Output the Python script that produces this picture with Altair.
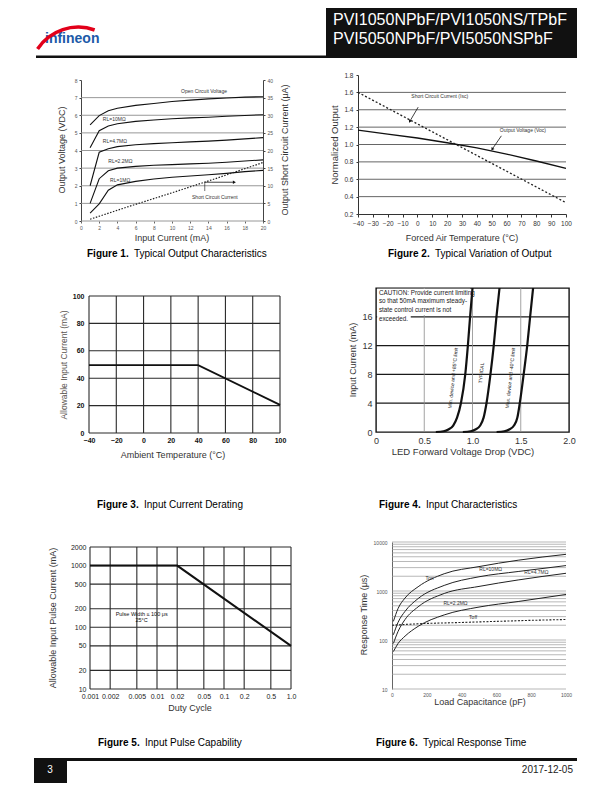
import math
import altair as alt
import pandas as pd

FONT = "Liberation Sans"

# ===================== DATA =====================
# Figure 1 - Typical Output Characteristics (x: input current mA, y: output volts)
F1_X = [1, 2, 3, 4, 6, 8, 10, 12, 14, 16, 18, 20]
F1_OPEN = [5.45, 5.98, 6.25, 6.40, 6.56, 6.67, 6.78, 6.86, 6.93, 6.98, 7.03, 7.05]
F1_R10 = [4.15, 5.12, 5.39, 5.52, 5.65, 5.73, 5.80, 5.85, 5.89, 5.94, 5.99, 6.03]
F1_R47 = [2.00, 3.90, 4.10, 4.22, 4.33, 4.39, 4.44, 4.49, 4.53, 4.59, 4.66, 4.73]
F1_R22 = [1.00, 2.40, 2.85, 3.00, 3.10, 3.16, 3.20, 3.24, 3.28, 3.33, 3.40, 3.47]
F1_R1 = [0.45, 0.97, 1.75, 2.05, 2.25, 2.38, 2.48, 2.55, 2.62, 2.70, 2.80, 2.87]
F1_ISC_X = [1, 5, 10, 15, 20]
F1_ISC = [0.5, 3.9, 8.0, 12.2, 16.6]          # short circuit current, uA
F1_XTICKS = [0, 2, 4, 6, 8, 10, 12, 14, 16, 18, 20]
F1_VTICKS = [0, 1, 2, 3, 4, 5, 6, 7, 8]
F1_ATICKS = [0, 5, 10, 15, 20, 25, 30, 35, 40]
F1_GRID = [0, 1, 2, 3, 4, 5, 6, 7]
F1_NOTES = ["Open Circuit Voltage", "RL=10MΩ", "RL=4.7MΩ", "RL=2.2MΩ", "RL=1MΩ", "Short Circuit Current"]
F1_NOTE_X = [11.0, 2.4, 2.4, 3.0, 3.2, 12.2]
F1_NOTE_Y = [7.4, 5.8, 4.55, 3.4, 2.35, 1.38]

# Figure 2 - Typical Variation of Output
F2_T = [-40, -20, 0, 20, 40, 60, 80, 100]
F2_VOC = [1.165, 1.12, 1.075, 1.02, 0.96, 0.89, 0.81, 0.725]
F2_ISC_T = [-40, 25, 100]
F2_ISC = [1.60, 1.01, 0.33]
F2_XTICKS = [-40, -30, -20, -10, 0, 10, 20, 30, 40, 50, 60, 70, 80, 90, 100]
F2_YTICKS = [0.2, 0.4, 0.6, 0.8, 1.0, 1.2, 1.4, 1.6, 1.8]
F2_GRID = [0.4, 0.6, 0.8, 1.0, 1.2, 1.4, 1.6]
F2_NOTES = ["Short Circuit Current (Isc)", "Output Voltage (Voc)"]
F2_NOTE_X = [15, 71]
F2_NOTE_Y = [1.556, 1.165]

# Figure 3 - Input Current Derating
F3_T = [-40, 40, 100]
F3_I = [49.5, 49.5, 20.5]
F3_XTICKS = [-40, -20, 0, 20, 40, 60, 80, 100]
F3_YTICKS = [0, 20, 40, 60, 80, 100]

# Figure 4 - Input Characteristics
F4_I = [0, 0.1, 0.35, 0.9, 2.0, 4.0, 8.0, 12.0, 16.0, 20.0]
F4_MIN_V = [0.62, 0.70, 0.75, 0.80, 0.84, 0.88, 0.925, 0.952, 0.975, 1.00]
F4_TYP_V = [0.90, 0.98, 1.03, 1.08, 1.115, 1.145, 1.186, 1.22, 1.248, 1.28]
F4_MAX_V = [1.25, 1.33, 1.38, 1.43, 1.465, 1.49, 1.53, 1.567, 1.597, 1.628]
F4_XTICKS = [0, 0.5, 1.0, 1.5, 2.0]
F4_YTICKS = [0, 4, 8, 12, 16]
F4_HGRID = [4, 8, 12, 16]
F4_VGRID = [0.5, 1.0, 1.5]
F4_CAUTION = ["CAUTION: Provide current limiting", "so that 50mA maximum steady-",
              "state control current is not", "exceeded."]
F4_CAUTION_Y = [19.35, 18.2, 16.95, 15.75]
F4_CURVE_NOTES = ["Min. device and +85°C limit", "TYPICAL", "Max. device and -40°C limit"]
F4_CURVE_NOTE_X = [0.795, 1.088, 1.389]
F4_CURVE_NOTE_Y = [7.5, 8.2, 7.5]

# Figure 5 - Input Pulse Capability
F5_D = [0.001, 0.02, 1.0]
F5_I = [1000, 1000, 50]
F5_XTICKS = [0.001, 0.002, 0.005, 0.01, 0.02, 0.05, 0.1, 0.2, 0.5, 1.0]
F5_YTICKS = [10, 20, 50, 100, 200, 500, 1000, 2000]
F5_NOTES = ["Pulse Width ≤ 100 μs", "25°C"]
F5_NOTE_X = [0.0059, 0.0059]
F5_NOTE_Y = [166, 130]

# Figure 6 - Typical Response Time
F6_C = [8, 35, 75, 150, 300, 500, 725, 1000]
F6_TON = [240, 440, 720, 1220, 2250, 3150, 4250, 5600]
F6_R10 = [128, 230, 385, 700, 1300, 1950, 2500, 3300]
F6_R47 = [85, 150, 262, 475, 890, 1240, 1680, 2300]
F6_R22 = [58, 85, 120, 190, 325, 470, 610, 850]
F6_TOFF_C = [0, 100, 200, 400, 600, 800, 1000]
F6_TOFF = [200, 210, 218, 228, 240, 252, 262]
F6_XTICKS = [0, 200, 400, 600, 800, 1000]
F6_YTICKS = [10, 100, 1000, 10000]
F6_GRID = [m * d for d in (10, 100, 1000) for m in range(1, 10)] + [10000]
F6_NOTES = ["Ton", "RL=10MΩ", "RL=4.7MΩ", "RL=2.2MΩ", "Toff"]
F6_NOTE_X = [215, 567, 830, 365, 466]
F6_NOTE_Y = [1800, 2750, 2400, 560, 300]


# ===================== HELPERS =====================
def one():
    return pd.DataFrame({"k": [0]})


def series(xs, ys, name):
    return pd.DataFrame({"x": xs, "y": ys, "s": name})


def scale(domain, rng=None, log=False):
    kw = dict(domain=domain, nice=False, zero=False)
    if log:
        kw["type"] = "log"
    if rng is not None:
        kw["range"] = rng
    return alt.Scale(**kw)


def axis(values, size, color="#333", orient=None, fmt=None, expr=None, tick=0,
         pad=3, domain=False, dcolor="#333", weight="normal"):
    kw = dict(values=values, title=None, grid=False, labelFont=FONT, labelFontSize=size,
              labelColor=color, labelPadding=pad, labelFlush=False, labelOverlap=False,
              domain=domain, ticks=tick > 0, tickSize=tick, labelFontWeight=weight)
    if tick > 0:
        kw["tickColor"] = dcolor
    if domain:
        kw["domainColor"] = dcolor
    if orient:
        kw["orient"] = orient
    if fmt:
        kw["format"] = fmt
    if expr:
        kw["labelExpr"] = expr
    return alt.Axis(**kw)


def box(left, right, top, bottom):
    return alt.Chart(one()).mark_rect(opacity=0).encode(
        x=alt.value(-left), x2=alt.value(right), y=alt.value(-top), y2=alt.value(bottom))


def rect(x1, x2, y1, y2, color):
    return alt.Chart(one()).mark_rect(color=color).encode(
        x=alt.value(x1), x2=alt.value(x2), y=alt.value(y1), y2=alt.value(y2))


def label(text, x, y, size=9, angle=0, weight="normal", color="#222",
          align="center", baseline="middle"):
    return alt.Chart(one()).mark_text(
        text=text, font=FONT, fontSize=size, angle=angle, fontWeight=weight,
        color=color, align=align, baseline=baseline).encode(x=alt.value(x), y=alt.value(y))


def caption(num, text, x0, yb):
    return [label(f"Figure {num}.", x0, yb, 10, weight="bold", color="#000",
                  align="left", baseline="alphabetic"),
            label(text, x0 + 47, yb, 10, color="#000", align="left", baseline="alphabetic")]


class Frame:
    """Scales and axes shared by every layer of one figure."""
    def __init__(self, X, Y, ax, ay):
        self.X, self.Y, self.ax, self.ay = X, Y, ax, ay

    def xe(self, field):
        return alt.X(field, scale=self.X, axis=self.ax)

    def ye(self, field):
        return alt.Y(field, scale=self.Y, axis=self.ay)


def curves(fr, frames, width=1.1, color="#111", dash=None, interp=None):
    df = pd.concat(frames, ignore_index=True)
    mk = dict(color=color, strokeWidth=width)
    if dash:
        mk["strokeDash"] = dash
    if interp:
        mk["interpolate"] = interp
    return alt.Chart(df).mark_line(**mk).encode(x=fr.xe("x:Q"), y=fr.ye("y:Q"), detail="s:N")


def notes(fr, xs, ys, texts, size, color="#333", align="left", angle=0):
    df = pd.DataFrame({"x": xs, "y": ys, "t": texts})
    return alt.Chart(df).mark_text(font=FONT, fontSize=size, color=color, align=align,
                                   baseline="middle", angle=angle).encode(
        x=fr.xe("x:Q"), y=fr.ye("y:Q"), text="t:N")


def hgrid(fr, vals, color, width):
    return alt.Chart(pd.DataFrame({"v": vals})).mark_rule(color=color, strokeWidth=width).encode(
        y=fr.ye("v:Q"))


def vgrid(fr, vals, lo, hi, color, width):
    df = pd.DataFrame({"v": vals, "lo": [lo] * len(vals), "hi": [hi] * len(vals)})
    return alt.Chart(df).mark_rule(color=color, strokeWidth=width).encode(
        x=fr.xe("v:Q"), y=fr.ye("hi:Q"), y2="lo:Q")


def arrow(fr, x1, y1, x2, y2, sx, sy):
    dx = (x2 - x1) * sx
    dy = -(y2 - y1) * sy
    ang = math.degrees(math.atan2(dx, -dy)) % 360
    seg = alt.Chart(pd.DataFrame({"x": [x1], "y": [y1], "x2": [x2], "y2": [y2]})).mark_rule(
        color="#111", strokeWidth=0.8).encode(x=fr.xe("x:Q"), y=fr.ye("y:Q"), x2="x2:Q", y2="y2:Q")
    head = alt.Chart(pd.DataFrame({"x": [x2], "y": [y2]})).mark_point(
        shape="triangle", filled=True, size=12, color="#111", opacity=1, angle=ang).encode(
        x=fr.xe("x:Q"), y=fr.ye("y:Q"))
    return [seg, head]


def spacer(w):
    return alt.Chart(one()).mark_rect(opacity=0).encode(
        x=alt.value(0), x2=alt.value(w), y=alt.value(0), y2=alt.value(1)).properties(width=w, height=1)


# ===================== FIGURE 1 =====================
W1, H1 = 182, 146
fr1 = Frame(scale([0, 20]), scale([0, 8], [H1, 5]),
            axis(F1_XTICKS, 5, "#555", tick=2, pad=2, dcolor="#666", fmt="d"),
            axis(F1_VTICKS, 5, "#555", tick=2, pad=2, domain=True, dcolor="#444", fmt="d"))
fr1r = Frame(fr1.X, scale([0, 40], [H1, 5]), fr1.ax,
             axis(F1_ATICKS, 5, "#555", orient="right", tick=2, pad=2, domain=True,
                  dcolor="#444", fmt="d"))
f1_leader = alt.Chart(pd.DataFrame({"x": [13.6], "y": [2.2], "y2": [1.7]})).mark_rule(
    color="#111", strokeWidth=0.6).encode(x=fr1.xe("x:Q"), y=fr1.ye("y:Q"), y2="y2:Q")
f1_inner = alt.layer(
    box(61, 224, 13, 187),
    hgrid(fr1, F1_GRID, "#8c8c8c", 0.9),
    curves(fr1, [series(F1_X, F1_OPEN, "open"), series(F1_X, F1_R10, "r10"),
                 series(F1_X, F1_R47, "r47"), series(F1_X, F1_R22, "r22"),
                 series(F1_X, F1_R1, "r1")], width=1.1),
    notes(fr1, F1_NOTE_X, F1_NOTE_Y, F1_NOTES, 5),
    f1_leader,
    *arrow(fr1, 13.6, 2.2, 16.8, 2.2, W1 / 20, (H1 - 5) / 8),
    label("Output Voltage (VDC)", -19, 75, 9, angle=270, color="#333"),
    label("Output Short Circuit Current (μA)", 204, 75, 9, angle=270, color="#333"),
    label("Input Current (mA)", 91, 163, 9, color="#333"),
    *caption(1, "Typical Output Characteristics", 6, 181.5),
)
f1_isc = curves(fr1r, [series(F1_ISC_X, F1_ISC, "isc")], width=1.2, color="#222", dash=[1.5, 1.5])
fig1 = alt.layer(f1_inner, f1_isc).resolve_scale(y="independent").properties(width=W1, height=H1)

# ===================== FIGURE 2 =====================
W2, H2 = 208, 139
fr2 = Frame(scale([-40, 100]), scale([0.2, 1.8], [H2, 0]),
            axis(F2_XTICKS, 6.5, "#333", tick=3, pad=3, domain=True, dcolor="#333", fmt="d"),
            axis(F2_YTICKS, 6.5, "#333", tick=2, pad=3, domain=True, dcolor="#333", fmt=".1f"))
sx2, sy2 = W2 / 140, H2 / 1.6
fig2 = alt.layer(
    box(53, 242, 13, 187),
    hgrid(fr2, F2_GRID, "#555", 0.9),
    curves(fr2, [series(F2_T, F2_VOC, "voc")], width=1.3),
    curves(fr2, [series(F2_ISC_T, F2_ISC, "isc")], width=1.3, color="#222", dash=[2, 2]),
    notes(fr2, F2_NOTE_X, F2_NOTE_Y, F2_NOTES, 5, align="center"),
    *arrow(fr2, 0.5, 1.43, -5, 1.27, sx2, sy2),
    *arrow(fr2, 56.5, 1.10, 50.5, 0.95, sx2, sy2),
    label("Normalized Output", -23, 70, 9.5, angle=270, color="#333"),
    label("Forced Air Temperature (°C)", 104, 163, 9, color="#333"),
    *caption(2, "Typical Variation of Output", 30, 182),
).properties(width=W2, height=H2)

# ===================== FIGURE 3 =====================
W3, H3 = 191, 145
fr3 = Frame(scale([-40, 100]), scale([0, 100], [H3, 8]),
            axis(F3_XTICKS, 7, "#111", pad=3, fmt="d", weight="bold"),
            axis(F3_YTICKS, 7, "#111", pad=5, fmt="d", weight="bold"))
fig3 = alt.layer(
    box(69, 231, 25, 225),
    hgrid(fr3, F3_YTICKS, "#2a2a2a", 1.1),
    vgrid(fr3, F3_XTICKS, 0, 100, "#2a2a2a", 1.1),
    curves(fr3, [series(F3_T, F3_I, "derating")], width=1.8),
    label("Allowable Input Current (mA)", -25, 77, 8.5, angle=270, color="#5a5550"),
    label("Ambient Temperature (°C)", 84, 167, 9, color="#333"),
    *caption(3, "Input Current Derating", 8, 219.5),
).properties(width=W3, height=H3)

# ===================== FIGURE 4 =====================
W4, H4 = 193, 144
fr4 = Frame(scale([0, 2]), scale([0, 20], [H4, 0]),
            axis(F4_XTICKS, 9, "#333", pad=4,
                 expr="datum.value == 0 ? '0' : format(datum.value, '.1f')"),
            axis(F4_YTICKS, 9, "#333", pad=4, fmt="d"))
caution_bg = alt.Chart(pd.DataFrame({"x": [0.012, 0.012], "x2": [0.975, 0.36],
                                     "y": [16.25, 15.1], "y2": [19.9, 16.25]})).mark_rect(
    color="white").encode(x=fr4.xe("x:Q"), x2="x2:Q", y=fr4.ye("y:Q"), y2="y2:Q")
fig4 = alt.layer(
    box(55, 225, 25, 225),
    hgrid(fr4, F4_HGRID, "#1a1a1a", 1.3),
    vgrid(fr4, F4_VGRID, 0, 20, "#8c8c8c", 0.8),
    caution_bg,
    curves(fr4, [series(F4_MIN_V, F4_I, "min"), series(F4_TYP_V, F4_I, "typ"),
                 series(F4_MAX_V, F4_I, "max")], width=2.2, interp="monotone"),
    notes(fr4, [0.03] * 4, F4_CAUTION_Y, F4_CAUTION, 6.3, color="#222"),
    notes(fr4, F4_CURVE_NOTE_X, F4_CURVE_NOTE_Y, F4_CURVE_NOTES, 5, color="#222",
          align="center", angle=276),
    label("Input Current (mA)", -23, 72, 9, angle=270, color="#333"),
    label("LED Forward Voltage Drop (VDC)", 87, 164, 9.5, color="#333"),
    *caption(4, "Input Characteristics", 3, 219.5),
).properties(width=W4, height=H4, view=alt.ViewBackground(stroke="#111", strokeWidth=1.4))

# ===================== FIGURE 5 =====================
W5, H5 = 201, 147
fr5 = Frame(scale([0.001, 1.0], log=True), scale([10, 2000], [H5, 5], log=True),
            axis(F5_XTICKS, 7, "#222", pad=3,
                 expr="datum.value >= 1 ? '1.0' : format(datum.value, '~g')"),
            axis(F5_YTICKS, 7, "#222", pad=4, fmt="d"))
fig5 = alt.layer(
    box(70, 240, 28, 210),
    hgrid(fr5, F5_YTICKS, "#2a2a2a", 1.1),
    vgrid(fr5, F5_XTICKS, 10, 2000, "#2a2a2a", 1.1),
    curves(fr5, [series(F5_D, F5_I, "pulse")], width=2.0),
    notes(fr5, F5_NOTE_X, F5_NOTE_Y, F5_NOTES, 5.5, color="#111", align="center"),
    label("Allowable Input Pulse Current (mA)", -37, 76, 9, angle=270, color="#333"),
    label("Duty Cycle", 100, 166, 9, color="#333"),
    *caption(5, "Input Pulse Capability", 8, 203.5),
).properties(width=W5, height=H5)

# ===================== FIGURE 6 =====================
W6, H6 = 174, 147
fr6 = Frame(scale([0, 1000]), scale([10, 10000], [H6, 0], log=True),
            axis(F6_XTICKS, 5, "#555", pad=3, fmt="d"),
            axis(F6_YTICKS, 5, "#555", pad=5, domain=True, dcolor="#666", fmt="d"))
fig6 = alt.layer(
    box(62, 208, 28, 210),
    hgrid(fr6, F6_GRID, "#9a9a9a", 0.7),
    curves(fr6, [series(F6_C, F6_TON, "ton"), series(F6_C, F6_R10, "r10"),
                 series(F6_C, F6_R47, "r47"), series(F6_C, F6_R22, "r22")],
           width=1.0, color="#222", interp="monotone"),
    curves(fr6, [series(F6_TOFF_C, F6_TOFF, "toff")], width=1.1, color="#222", dash=[2, 1.5]),
    notes(fr6, F6_NOTE_X, F6_NOTE_Y, F6_NOTES, 5, align="center"),
    label("Response Time (μs)", -28, 73, 9, angle=270, color="#333"),
    label("Load Capacitance (pF)", 88, 160, 9, color="#333"),
    *caption(6, "Typical Response Time", -16, 203.5),
).properties(width=W6, height=H6)

# ===================== HEADER / FOOTER =====================
# logo swoosh: one circular arc (angles in radians, clockwise from north)
LOGO_ARC = dict(color="#e2001a", radius=50.3, radius2=46.8,
                theta=math.radians(303.4), theta2=math.radians(379.9))
header = alt.layer(
    rect(318, 569, 0, 49, "#111"),
    rect(28, 569, 47.5, 50, "#111"),
    label("PVI1050NPbF/PVI1050NS/TPbF", 325, 17.4, 16, color="white", align="left", baseline="alphabetic"),
    label("PVI5050NPbF/PVI5050NSPbF", 325, 35.7, 16, color="white", align="left", baseline="alphabetic"),
    label("infineon", 37, 35.3, 14, weight="bold", color="#1d5aa8", align="left", baseline="alphabetic"),
    alt.Chart(one()).mark_arc(**LOGO_ARC).encode(x=alt.value(70.1), y=alt.value(67.65)),
).properties(width=596, height=54)

footer = alt.layer(
    rect(28, 569, 6, 9, "#111"),
    rect(26, 59, 6, 31, "#111"),
    label("3", 42, 21, 10, color="white", baseline="alphabetic"),
    label("2017-12-05", 565, 21, 10, color="#222", align="right", baseline="alphabetic"),
).properties(width=596, height=40)

row1 = alt.hconcat(spacer(12), fig1, fig2, spacing=0, bounds="full")
row2 = alt.hconcat(spacer(12), fig3, fig4, spacing=0, bounds="full")
row3 = alt.hconcat(spacer(12), fig5, fig6, spacing=0, bounds="full")

chart = alt.vconcat(header, row1, row2, row3, footer, spacing=0, bounds="full").properties(
    padding=0, background="white").configure_view(strokeWidth=0)

chart.save("out.html", embed_options={"renderer": "svg", "actions": False})
